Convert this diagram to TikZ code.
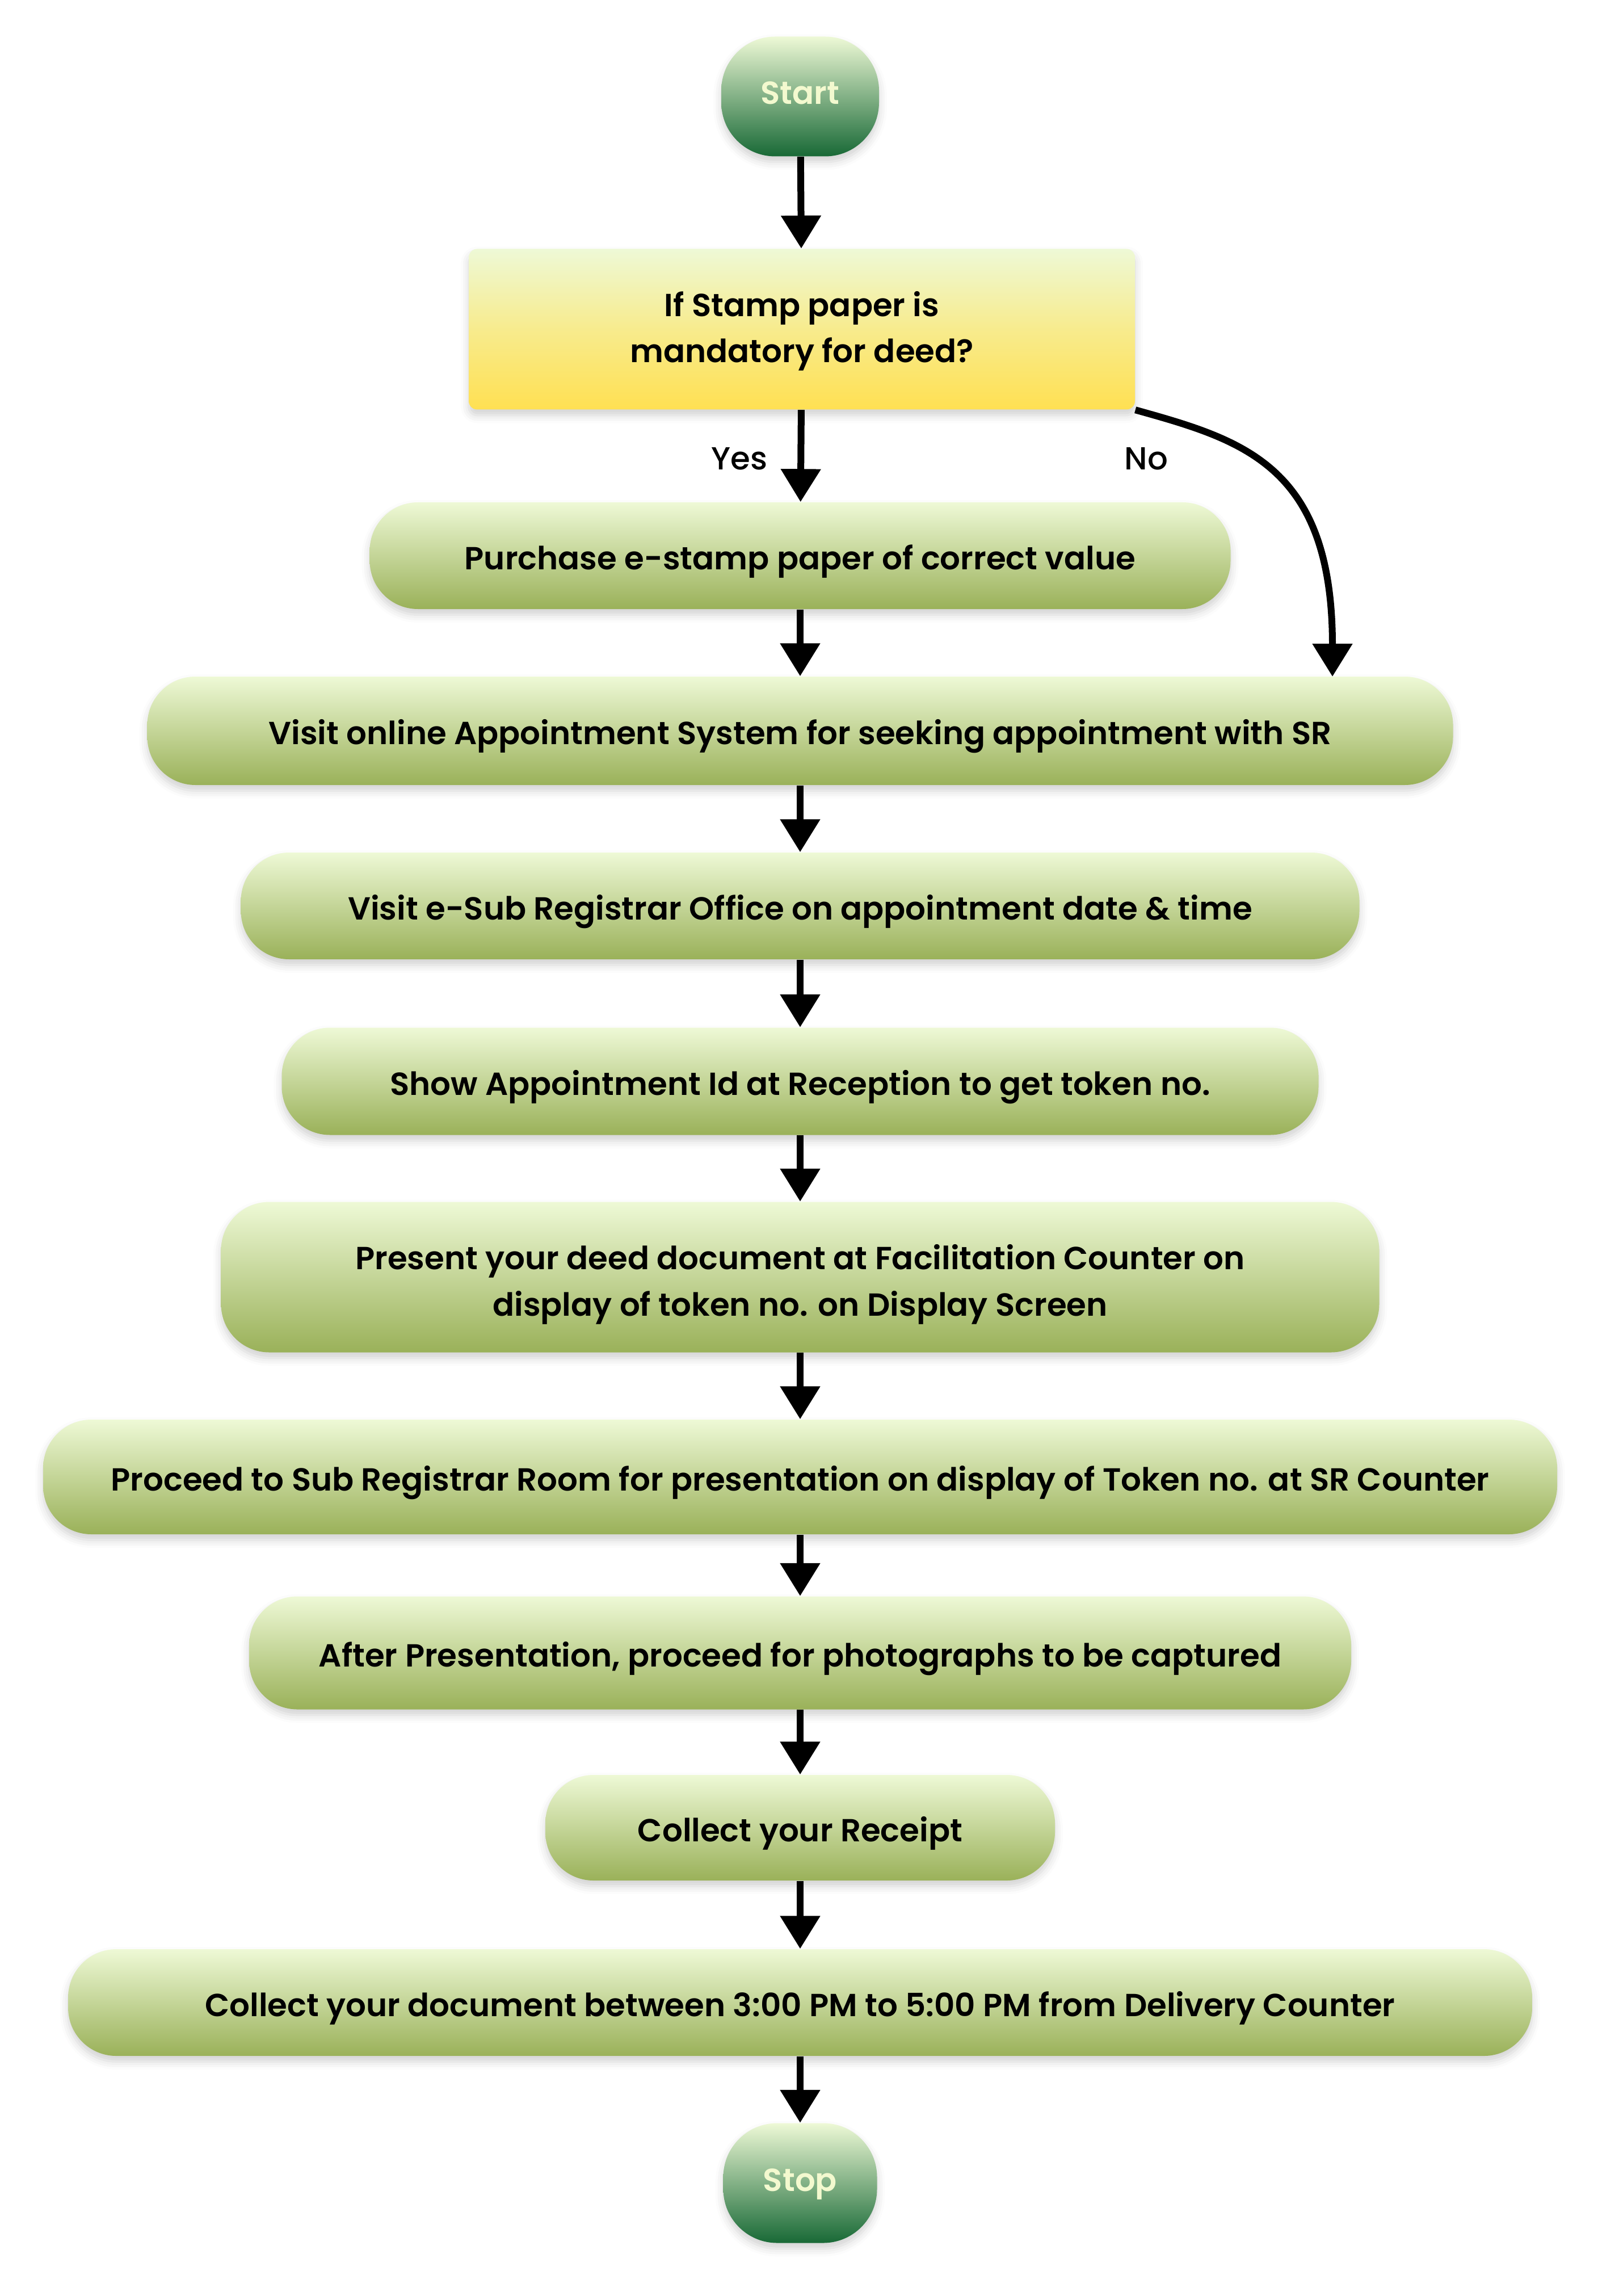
\documentclass[tikz,border=0pt]{standalone}
\usepackage{fontspec}
\setmainfont{Poppins}
\newfontfamily\boxfont{Poppins SemiBold}
\newfontfamily\labelfont{Poppins Medium}
\usepackage{tikz}
\usetikzlibrary{positioning, calc, shapes, arrows.meta, shadows.blur}

\definecolor{paletop}{HTML}{EEF9D6}
\definecolor{olivebot}{HTML}{9AB159}
\definecolor{darkgreen}{HTML}{186936}
\definecolor{startext}{HTML}{F3F9CF}
\definecolor{yellowbot}{HTML}{FFE052}

\begin{document}
\begin{tikzpicture}[
		every node/.style = {font=\boxfont\fontsize{16}{23.3}\selectfont, align=center, inner sep=0pt},
		softshadow/.style = {blur shadow={shadow xshift=0pt, shadow yshift=-0.1cm, shadow blur radius=0.14cm, shadow opacity=18}},
		process/.style = {rounded corners=0.85cm, top color=paletop, bottom color=olivebot, softshadow, text height=0.62cm, text depth=0.14cm},
		twolines/.style = {text height=1.50cm, text depth=0.14cm},
		terminal/.style = {rounded corners=0.95cm, top color=paletop, bottom color=darkgreen, text=startext, minimum width=2.78cm, minimum height=2.11cm, text height=0.42cm, text depth=0.14cm, softshadow},
		decision/.style = {rounded corners=0.15cm, top color=paletop, bottom color=yellowbot, middle color=yellowbot!55!paletop, softshadow, text height=1.32cm, text depth=0.14cm},
		flow/.style = {line width=0.12cm, -{Triangle[width=0.68cm, length=0.58cm]}},
		choice/.style = {font=\labelfont\fontsize{16}{20}\selectfont}
	]
	\useasboundingbox (0,0) rectangle (28.15,-40.45);

	\node[terminal] (start) at (14.1,-1.70) {Start};
	\node[decision, minimum width=11.74cm, minimum height=2.83cm] (stamp) at (14.13,-5.80) {If Stamp paper is\\mandatory for deed?};
	\node[process, minimum width=15.17cm, minimum height=1.88cm] (purchase) at (14.1,-9.79) {Purchase e-stamp paper of correct value};
	\node[process, minimum width=23.01cm, minimum height=1.91cm] (online) at (14.1,-12.875) {Visit online Appointment System for seeking appointment with SR};
	\node[process, minimum width=19.71cm, minimum height=1.88cm] (office) at (14.1,-15.96) {Visit e-Sub Registrar Office on appointment date \& time};
	\node[process, minimum width=18.27cm, minimum height=1.89cm] (token) at (14.1,-19.05) {Show Appointment Id at Reception to get token no.};
	\node[process, twolines, minimum width=20.41cm, minimum height=2.65cm] (present) at (14.1,-22.50) {Present your deed document at Facilitation Counter on\\display of token no. on Display Screen};
	\node[process, minimum width=26.68cm, minimum height=2.02cm] (proceed) at (14.1,-26.02) {Proceed to Sub Registrar Room for presentation on display of Token no. at SR Counter};
	\node[process, minimum width=19.42cm, minimum height=1.99cm] (photo) at (14.1,-29.12) {After Presentation, proceed for photographs to be captured};
	\node[process, minimum width=8.98cm, minimum height=1.86cm] (receipt) at (14.1,-32.20) {Collect your Receipt};
	\node[process, minimum width=25.80cm, minimum height=1.88cm] (delivery) at (14.1,-35.28) {Collect your document between 3:00 PM to 5:00 PM from Delivery Counter};
	\node[terminal, minimum width=2.71cm] (stop) at (14.1,-38.46) {Stop};

	\node[choice] (yes) at (13.03,-8.08) {Yes};
	\node[choice] (no) at (20.20,-8.08) {No};
	\coordinate (noend) at (23.48,-11.92);

	\draw[flow] (start) -- (stamp);
	\draw[flow] (stamp) -- (purchase);
	\draw[flow] (stamp.south east) .. controls (21.9,-7.75) and (23.48,-8.2) .. (noend);
	\draw[flow] (purchase) -- (online);
	\draw[flow] (online) -- (office);
	\draw[flow] (office) -- (token);
	\draw[flow] (token) -- (present);
	\draw[flow] (present) -- (proceed);
	\draw[flow] (proceed) -- (photo);
	\draw[flow] (photo) -- (receipt);
	\draw[flow] (receipt) -- (delivery);
	\draw[flow] (delivery) -- (stop);
\end{tikzpicture}
\end{document}
